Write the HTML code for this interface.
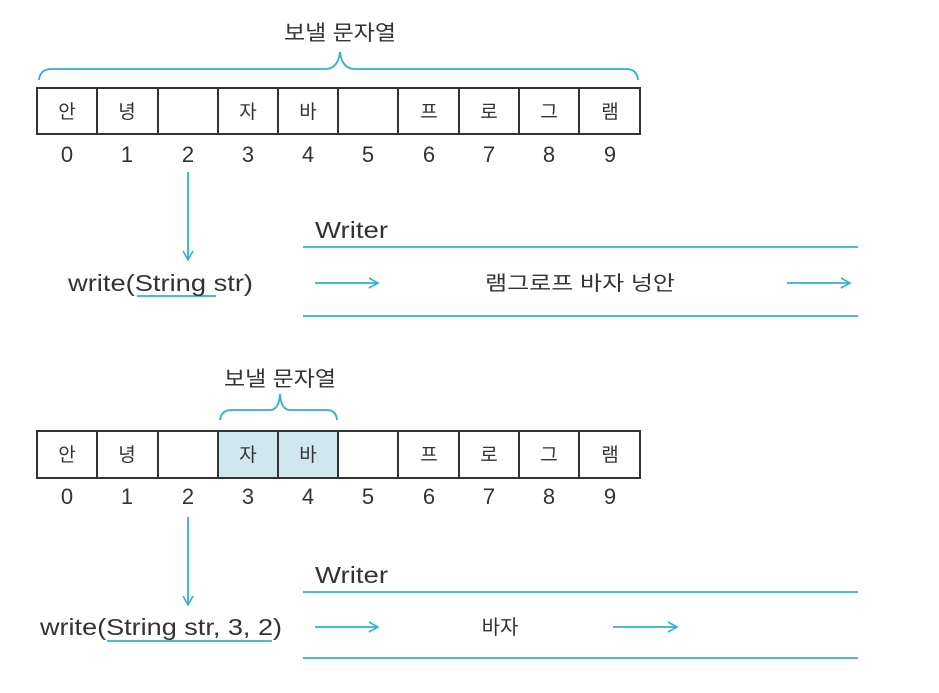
<!DOCTYPE html>
<html><head><meta charset="utf-8"><style>
body{margin:0;background:#fff;}
svg text{font-family:"Liberation Sans","Noto Sans CJK KR",sans-serif;fill:#333;}
</style></head><body>
<svg width="939" height="688" xmlns="http://www.w3.org/2000/svg">
<defs>
<marker id="ah" markerWidth="12" markerHeight="12" refX="10" refY="6" orient="auto" markerUnits="userSpaceOnUse">
<path d="M1,1 L10,6 L1,11" fill="none" stroke="#2fb3c8" stroke-width="1.6"/></marker>
</defs>
<g stroke="#2fb3c8" stroke-width="1.8" fill="none">
<path d="M39,80 Q40,69 52,69 L325,69 Q338,69 340,52 Q342,69 355,69 L626,69 Q637,69 638,80"/>
<path d="M220,420 Q221,410 232,410 L270,410 Q279,410 280,394 Q281,410 290,410 L327,410 Q336,410 337,420"/>
<path d="M188,172 L188,260" marker-end="url(#ah)"/>
<path d="M188,517 L188,605" marker-end="url(#ah)"/>
<line x1="303" y1="247" x2="858" y2="247"/>
<line x1="303" y1="316" x2="858" y2="316"/>
<line x1="303" y1="592" x2="858" y2="592"/>
<line x1="303" y1="658" x2="858" y2="658"/>
<path d="M315,283 L378,283" marker-end="url(#ah)"/>
<path d="M787,283 L850,283" marker-end="url(#ah)"/>
<path d="M315,627 L378,627" marker-end="url(#ah)"/>
<path d="M613,627 L677,627" marker-end="url(#ah)"/>
<line x1="137" y1="296" x2="216" y2="296"/>
<line x1="107" y1="641" x2="272" y2="641"/>
</g>
<rect x="218" y="431" width="120" height="47" fill="#cfe8ee"/>
<g stroke="#333" stroke-width="2" fill="none">
<rect x="37" y="88" width="603" height="46"/>
<rect x="37" y="431" width="603" height="47"/>
<path d="M97,88V134M158,88V134M218,88V134M278,88V134M338,88V134M398,88V134M459,88V134M519,88V134M579,88V134"/>
<path d="M97,431V478M158,431V478M218,431V478M278,431V478M338,431V478M398,431V478M459,431V478M519,431V478M579,431V478"/>
</g>
<g font-size="21" text-anchor="middle">
<text x="340" y="40" textLength="112" lengthAdjust="spacingAndGlyphs">보낼 문자열</text>
<text x="280" y="386" textLength="112" lengthAdjust="spacingAndGlyphs">보낼 문자열</text>
<g font-size="19">
<text x="67" y="118">안</text><text x="127" y="118">녕</text><text x="248" y="118">자</text><text x="308" y="118">바</text><text x="429" y="118">프</text><text x="489" y="118">로</text><text x="549" y="118">그</text><text x="610" y="118">램</text>
<text x="67" y="461">안</text><text x="127" y="461">녕</text><text x="248" y="461">자</text><text x="308" y="461">바</text><text x="429" y="461">프</text><text x="489" y="461">로</text><text x="549" y="461">그</text><text x="610" y="461">램</text>
</g>
<g font-size="22">
<text x="67" y="162">0</text><text x="127" y="162">1</text><text x="188" y="162">2</text><text x="248" y="162">3</text><text x="308" y="162">4</text><text x="368" y="162">5</text><text x="429" y="162">6</text><text x="489" y="162">7</text><text x="549" y="162">8</text><text x="610" y="162">9</text>
<text x="67" y="504">0</text><text x="127" y="504">1</text><text x="188" y="504">2</text><text x="248" y="504">3</text><text x="308" y="504">4</text><text x="368" y="504">5</text><text x="429" y="504">6</text><text x="489" y="504">7</text><text x="549" y="504">8</text><text x="610" y="504">9</text>
</g>
<text x="580" y="290" font-size="20" textLength="190" lengthAdjust="spacingAndGlyphs">램그로프 바자 넝안</text>
<text x="500" y="634" font-size="20">바자</text>
</g>
<g font-size="23">
<text x="315" y="238" textLength="73" lengthAdjust="spacingAndGlyphs">Writer</text>
<text x="315" y="583" textLength="73" lengthAdjust="spacingAndGlyphs">Writer</text>
<text x="68" y="291" textLength="185" lengthAdjust="spacingAndGlyphs">write(String str)</text>
<text x="40" y="635" textLength="242" lengthAdjust="spacingAndGlyphs">write(String str, 3, 2)</text>
</g>
</svg>
</body></html>
